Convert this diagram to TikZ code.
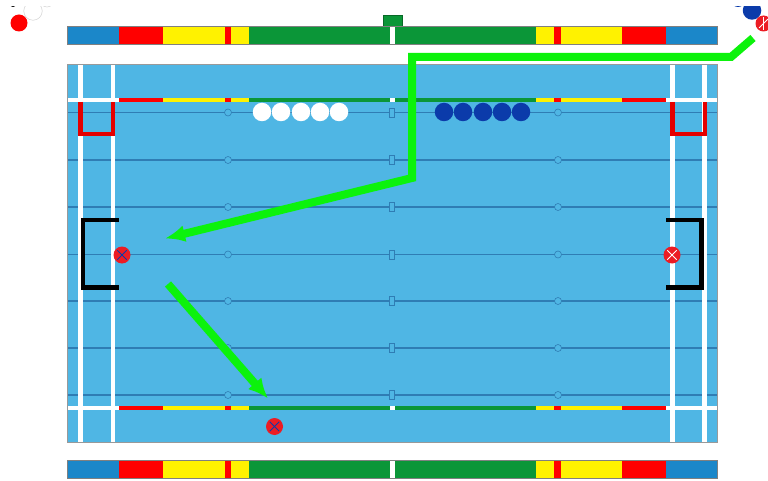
\documentclass[tikz,border=0pt]{standalone}
\usepackage{tikz}
\usetikzlibrary{arrows.meta,positioning}
\definecolor{poolblue}{HTML}{4FB6E4}
\definecolor{barblue}{HTML}{1B87C9}
\definecolor{lanedark}{HTML}{2F7DB4}
\definecolor{zonegreen}{HTML}{0B9638}
\definecolor{pathgreen}{HTML}{0CF20C}
\definecolor{capblue}{HTML}{0B3BAA}
\definecolor{capred}{HTML}{EC1C24}
\begin{document}
\begin{tikzpicture}[
        x=1pt, y=-1pt,
        pool/.style={draw=gray!80, fill=poolblue, line width=1pt},
        courtline/.style={draw=white, line width=4.2pt},
        goal/.style={line width=4.4pt, line join=miter},
        lane/.style={draw=lanedark, line width=1.3pt},
        floater/.style={circle, draw=lanedark, line width=0.6pt, fill=poolblue, minimum size=7pt, inner sep=0pt},
        post/.style={rectangle, draw=lanedark, line width=0.6pt, fill=poolblue, minimum width=4.5pt, minimum height=9pt, inner sep=0pt},
        ball/.style={circle, minimum size=18.5pt, inner sep=0pt},
        marker/.style={circle, fill=capred, minimum size=17pt, inner sep=0pt},
        cross/.style={line width=1pt, shorten >=2pt, shorten <=2pt},
        route/.style={draw=pathgreen, line width=8pt, line join=miter}
    ]
    \useasboundingbox (0,0) rectangle (768,481);
    \fill[white] (0,0) rectangle (768,481);

    % pool
    \draw[pool] (67.5,65) rectangle (717,442);
    \foreach \ly in {112.5,160,207,254.5,301,348,395} {
        \draw[lane] (68,\ly) -- (716.5,\ly);
        \node[floater] at (228,\ly) {};
        \node[post] at (392,\ly) {};
        \node[floater] at (558,\ly) {};
    }
    \foreach \lx in {80.5,113,672.5,704.5} {
        \draw[courtline] (\lx,65.5) -- (\lx,441.5);
    }
    \foreach \ly in {100.3,408} {
        \draw[courtline] (68,\ly) -- (118.5,\ly);
        \draw[courtline] (666,\ly) -- (716.5,\ly);
    }

    % coloured zones, bars and pool edges
    \foreach \xa/\xb/\zone in {118.5/163/red,163/225/yellow,225/231/red,231/249/yellow,249/536/zonegreen,536/554/yellow,554/560.5/red,560.5/622/yellow,622/666/red} {
        \fill[\zone] (\xa,98) rectangle (\xb,102.5);
        \fill[\zone] (\xa,405.8) rectangle (\xb,410.2);
        \fill[\zone] (\xa,26) rectangle (\xb,44.5);
        \fill[\zone] (\xa,460.5) rectangle (\xb,478.5);
    }
    \foreach \by in {98,405.8} {
        \fill[white] (389.5,\by) rectangle (395,\by+4.5);
    }
    \foreach \by/\bh in {26/18.5,460.5/18} {
        \fill[barblue] (67.5,\by) rectangle (118.5,\by+\bh);
        \fill[barblue] (666,\by) rectangle (717,\by+\bh);
        \fill[white] (390,\by) rectangle (395,\by+\bh);
        \draw[gray, line width=0.8pt] (67.5,\by) rectangle (717,\by+\bh);
    }
    \draw[draw=zonegreen!70!black, fill=zonegreen, line width=0.8pt] (383,26) -- (383,15) -- (402,15) -- (402,26);

    % goals
    \draw[goal, draw=red!90!black] (80.5,102) -- (80.5,134) -- (113,134) -- (113,102);
    \draw[goal, draw=red!90!black] (672.5,102) -- (672.5,134) -- (705,134) -- (705,102);
    \draw[goal, draw=black] (119,220) -- (83,220) -- (83,287.5) -- (119,287.5);
    \draw[goal, draw=black] (666,220) -- (701.5,220) -- (701.5,287.5) -- (666,287.5);

    % caps in the water
    \foreach \n/\bx in {1/262,2/281,3/301,4/320,5/339} {
        \node[ball, fill=white] (white\n) at (\bx,112) {};
    }
    \foreach \n/\bx in {1/444,2/463,3/483,4/502,5/521} {
        \node[ball, fill=capblue] (blue\n) at (\bx,112) {};
    }
    \node[marker] (keeper) at (122,255) {};
    \node[marker] (rival) at (672,255) {};
    \node[marker] (wing) at (274.5,426.5) {};
    \draw[cross, capblue] (keeper.north west) -- (keeper.south east);
    \draw[cross, capblue] (keeper.north east) -- (keeper.south west);
    \draw[cross, capblue] (wing.north west) -- (wing.south east);
    \draw[cross, capblue] (wing.north east) -- (wing.south west);
    \draw[cross, white] (rival.north west) -- (rival.south east);
    \draw[cross, white] (rival.north east) -- (rival.south west);

    % caps outside the pool
    \node[ball, fill=white, draw=gray!35, line width=0.5pt] (benchwhite) at (33,11) {};
    \node[ball, fill=white, draw=gray!35, line width=0.5pt, minimum size=14pt] (benchwhitetwo) at (47,0) {};
    \node[ball, fill=red, minimum size=17pt] (benchred) at (19,23) {};
    \node[ball, fill=black, minimum size=6pt] (benchblack) at (13,4) {};
    \node[ball, fill=capblue, minimum size=14pt] (benchbluetwo) at (738,0) {};
    \node[ball, fill=capblue] (benchblue) at (752,10.5) {};
    \node[marker, minimum size=16pt] (swimmer) at (763.5,23.5) {};
    \draw[cross, white] (swimmer.north east) -- (swimmer.south west);
    \draw[cross, white] (swimmer.north) -- (swimmer.south);
    \fill[white] (0,0) rectangle (768,6);

    % routes
    \coordinate (start) at (753,38);
    \coordinate (bend) at (731,57);
    \coordinate (corner) at (412,57);
    \coordinate (turn) at (412,178);
    \coordinate (pass) at (165,238.5);
    \coordinate (shot) at (168,284);
    \coordinate (wingend) at (268,398.5);
    \draw[route, -{Latex[length=20pt, width=17pt]}] (start) -- (bend) -- (corner) -- (turn) -- (pass);
    \draw[route, -{Latex[length=20pt, width=18pt]}] (shot) -- (wingend);
    \end{tikzpicture}
\end{document}
